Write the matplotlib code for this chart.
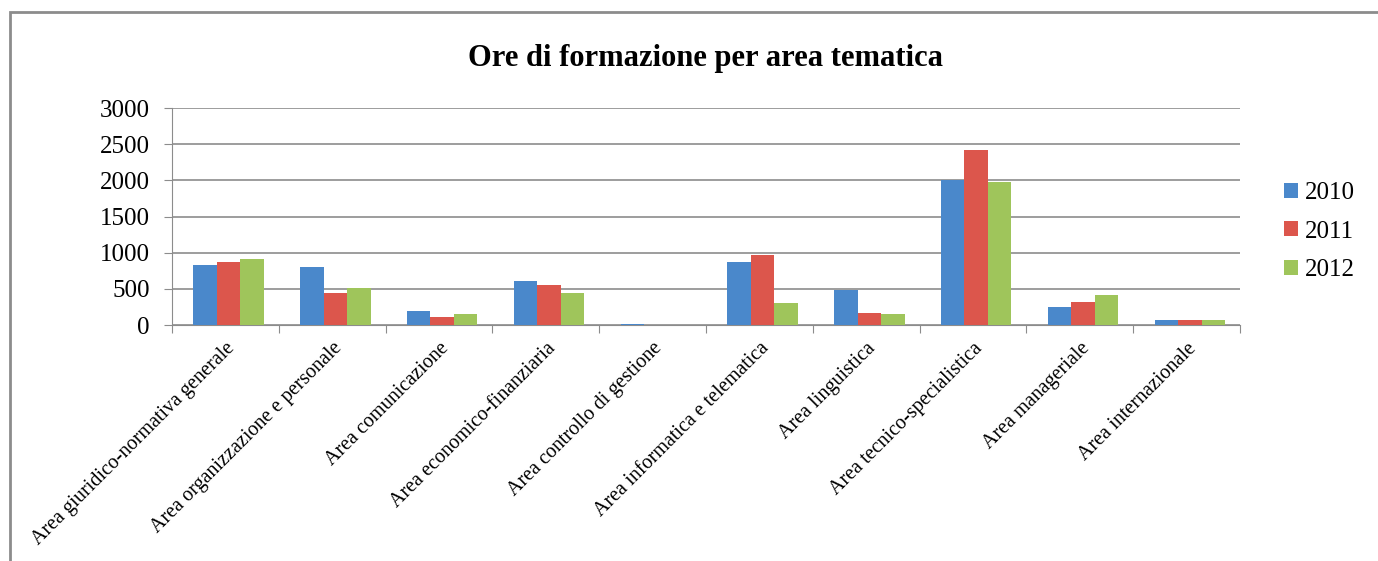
import matplotlib.pyplot as plt
import matplotlib.patches as mpatches
import numpy as np

categories = ['Area giuridico-normativa generale', 'Area organizzazione e personale',
              'Area comunicazione', 'Area economico-finanziaria', 'Area controllo di gestione',
              'Area informatica e telematica', 'Area linguistica', 'Area tecnico-specialistica',
              'Area manageriale', 'Area internazionale']
ore_2010 = [834, 797, 188, 608, 15, 871, 479, 2005, 249, 75]
ore_2011 = [871, 443, 110, 553, 0, 968, 170, 2425, 322, 75]
ore_2012 = [907, 512, 152, 437, 0, 304, 152, 1975, 419, 75]
years = ['2010', '2011', '2012']
colors = ['#4a88cb', '#dc564c', '#9fc55b']

plt.rcParams['font.family'] = ['Liberation Serif', 'DejaVu Serif']

fig = plt.figure(figsize=(13.78, 5.61), dpi=100)
ax = fig.add_axes([172 / 1378, 1 - 325 / 561, (1240 - 172) / 1378, (325 - 108) / 561])

# outer chart border
fig.patches.append(mpatches.Rectangle((10 / 1378, -0.05), 1.1, 1 - 12 / 561 + 0.05,
                                      transform=fig.transFigure, fill=False,
                                      edgecolor='#8c8c8c', linewidth=2, clip_on=False))

x = np.arange(len(categories))
w = 0.22
for i, (vals, c) in enumerate(zip([ore_2010, ore_2011, ore_2012], colors)):
    ax.bar(x + (i - 1) * w + 0.03, vals, w, color=c, label=years[i], zorder=3)

ax.set_xlim(-0.5, len(categories) - 0.5)
ax.set_ylim(0, 3000)
ax.set_yticks(range(0, 3001, 500))
ax.yaxis.grid(True, color='#8c8c8c', linewidth=1.2, zorder=0)
for s in ['top', 'right']:
    ax.spines[s].set_visible(False)
ax.spines['left'].set_color('#8c8c8c')
ax.spines['bottom'].set_color('#8c8c8c')

ax.set_xticks(np.arange(-0.5, len(categories)), minor=False)
ax.set_xticklabels([])
ax.tick_params(axis='x', length=6, color='#8c8c8c', direction='out')
ax.set_xticks(x, minor=True)
ax.set_xticklabels(categories, minor=True, rotation=45, ha='right', va='top',
                   rotation_mode='anchor', fontsize=14.5)
ax.tick_params(axis='x', which='minor', length=0, pad=10)
ax.tick_params(axis='y', length=6, color='#8c8c8c', labelsize=18, pad=10)

ax.set_title('Ore di formazione per area tematica', fontsize=22, fontweight='bold', pad=30)

ax.legend(loc='center left', bbox_to_anchor=(1.02, 0.43), frameon=False, fontsize=18,
          handlelength=0.55, handleheight=0.55, handletextpad=0.3, labelspacing=0.65)

fig.savefig('out.png', dpi=100)
